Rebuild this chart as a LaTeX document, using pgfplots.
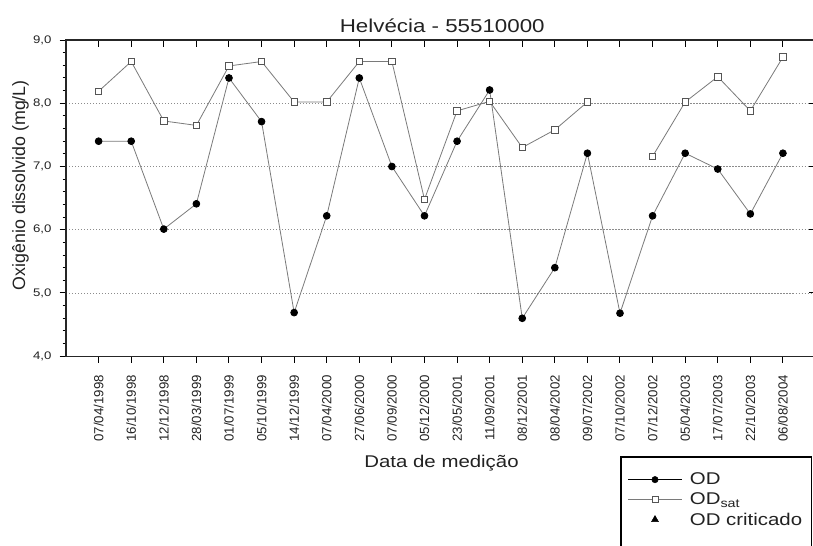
\documentclass[border=0pt]{standalone}
\usepackage{pgfplots}
\usepackage{pgfplotstable}
\pgfplotsset{compat=1.18}
\usepackage{fontspec}
\setmainfont{Liberation Sans}
\newfontfamily\wide[FakeStretch=1.2]{Liberation Sans}
\definecolor{lgray}{HTML}{7A7A7A}
\definecolor{sqgray}{HTML}{555555}
\definecolor{gridgray}{HTML}{8C8C8C}
\definecolor{txt}{HTML}{222222}

\pgfplotstableread{
idx od odsat
0 7.40 8.19
1 7.40 8.66
2 6.01 7.72
3 6.41 7.65
4 8.40 8.59
5 7.71 8.66
6 4.69 8.02
7 6.22 8.02
8 8.40 8.66
9 7.00 8.66
10 6.22 6.48
11 7.40 7.88
12 8.21 8.03
13 4.60 7.30
14 5.40 7.58
15 7.21 8.02
16 4.68 nan
17 6.22 7.16
18 7.21 8.02
19 6.96 8.42
20 6.25 7.88
21 7.21 8.73
}\datatable

\begin{document}
\begin{tikzpicture}
\begin{axis}[
  name=main, at={(0pt,0pt)}, anchor=south west,
  scale only axis, width=749pt, height=316pt,
  xmin=-1, xmax=22, ymin=4, ymax=9,
  xtick={0,...,21},
  xticklabels={07/04/1998,16/10/1998,12/12/1998,28/03/1999,01/07/1999,05/10/1999,14/12/1999,07/04/2000,27/06/2000,07/09/2000,05/12/2000,23/05/2001,11/09/2001,08/12/2001,08/04/2002,09/07/2002,07/10/2002,07/12/2002,05/04/2003,17/07/2003,22/10/2003,06/08/2004},
  ytick={4,5,6,7,8,9},
  minor y tick num=4,
  xtick pos=left, ytick pos=left,
  tick align=outside,
  major tick length=6.5pt, minor tick length=3.5pt,
  every tick/.style={black, line width=1pt},
  axis line style={black!85, line width=1.3pt},
  every x tick label/.style={rotate=90, anchor=east, font=\fontsize{13.2}{15}\selectfont, text=txt},
  xticklabel shift=9pt,
  every y tick label/.style={anchor=east, font=\wide\fontsize{11}{13}\selectfont, text=txt},
  yticklabel shift=4.5pt,
  yticklabel style={/pgf/number format/.cd, fixed, fixed zerofill, precision=1, use comma, assume math mode=true},
  ymajorgrids,
  grid style={gridgray, dash pattern=on 1.2pt off 1.8pt, line width=0.8pt},
  title={Helvécia - 55510000},
  every axis title/.style={at={(axis description cs:0.502,1.0253)}, anchor=base, font=\wide\fontsize{18.6}{22}\selectfont, text=txt},
  xlabel={Data de medição},
  every axis x label/.style={at={(axis description cs:0.501,-0.3386)}, anchor=center, font=\wide\fontsize{17}{20}\selectfont, text=txt},
  ylabel={Oxigênio dissolvido (mg/L)},
  every axis y label/.style={at={(axis description cs:-0.0607,0.541)}, rotate=90, anchor=center, font=\fontsize{17.8}{20}\selectfont, text=txt},
  unbounded coords=jump,
  legend style={at={(axis description cs:0.7397,-0.3165)}, anchor=north west, draw=black, line width=1.3pt,
    font=\wide\fontsize{17}{19}\selectfont, text=txt, inner xsep=7pt, inner ysep=14pt, row sep=2.5pt, column sep=6pt},
  legend cell align=left,
]
\addplot[lgray, line width=0.8pt, mark=square*, mark size=3.2pt, mark options={fill=white, draw=sqgray, line width=0.8pt}, forget plot] table[x=idx, y=odsat] {\datatable};
\addplot[lgray, line width=0.8pt, mark=*, mark size=3.4pt, mark options={fill=black, draw=black}, forget plot] table[x=idx, y=od] {\datatable};

\addlegendimage{legend image code/.code={\draw[black, line width=0.8pt] (0pt,0pt) -- (53pt,0pt); \draw[black, line width=0.5pt, mark=*, mark size=3.2pt, mark options={fill=black}] plot coordinates {(26.5pt,0pt)};}}
\addlegendentry{OD}
\addlegendimage{legend image code/.code={\draw[lgray, line width=0.8pt] (0pt,0pt) -- (53pt,0pt); \draw[sqgray, line width=0.8pt, mark=square*, mark size=3pt, mark options={fill=white, draw=sqgray}] plot coordinates {(26.5pt,0pt)};}}
\addlegendentry{OD\textsubscript{sat}}
\addlegendimage{legend image code/.code={\draw[black, line width=0.5pt, mark=triangle*, mark size=4pt, mark options={fill=black}] plot coordinates {(26.5pt,0pt)};}}
\addlegendentry{OD criticado}
\addlegendimage{empty legend}
\addlegendentry{\rule{0pt}{24pt}}
\end{axis}
\begin{axis}[
  at={(0pt,0pt)}, anchor=south west,
  scale only axis, width=749pt, height=316pt,
  xmin=-1, xmax=22, ymin=4, ymax=9,
  xtick={0,...,21}, ytick={4,5,6,7,8,9},
  xticklabels={}, yticklabels={},
  minor y tick num=0,
  xtick pos=right, ytick pos=right,
  tick align=inside,
  major tick length=6.5pt,
  every tick/.style={black, line width=1pt},
  axis line style={black!85, line width=1.3pt},
]
\end{axis}
\pgfresetboundingbox
\path[use as bounding box] (-66pt,-189pt) rectangle (746.5pt,356pt);
\end{tikzpicture}
\end{document}
